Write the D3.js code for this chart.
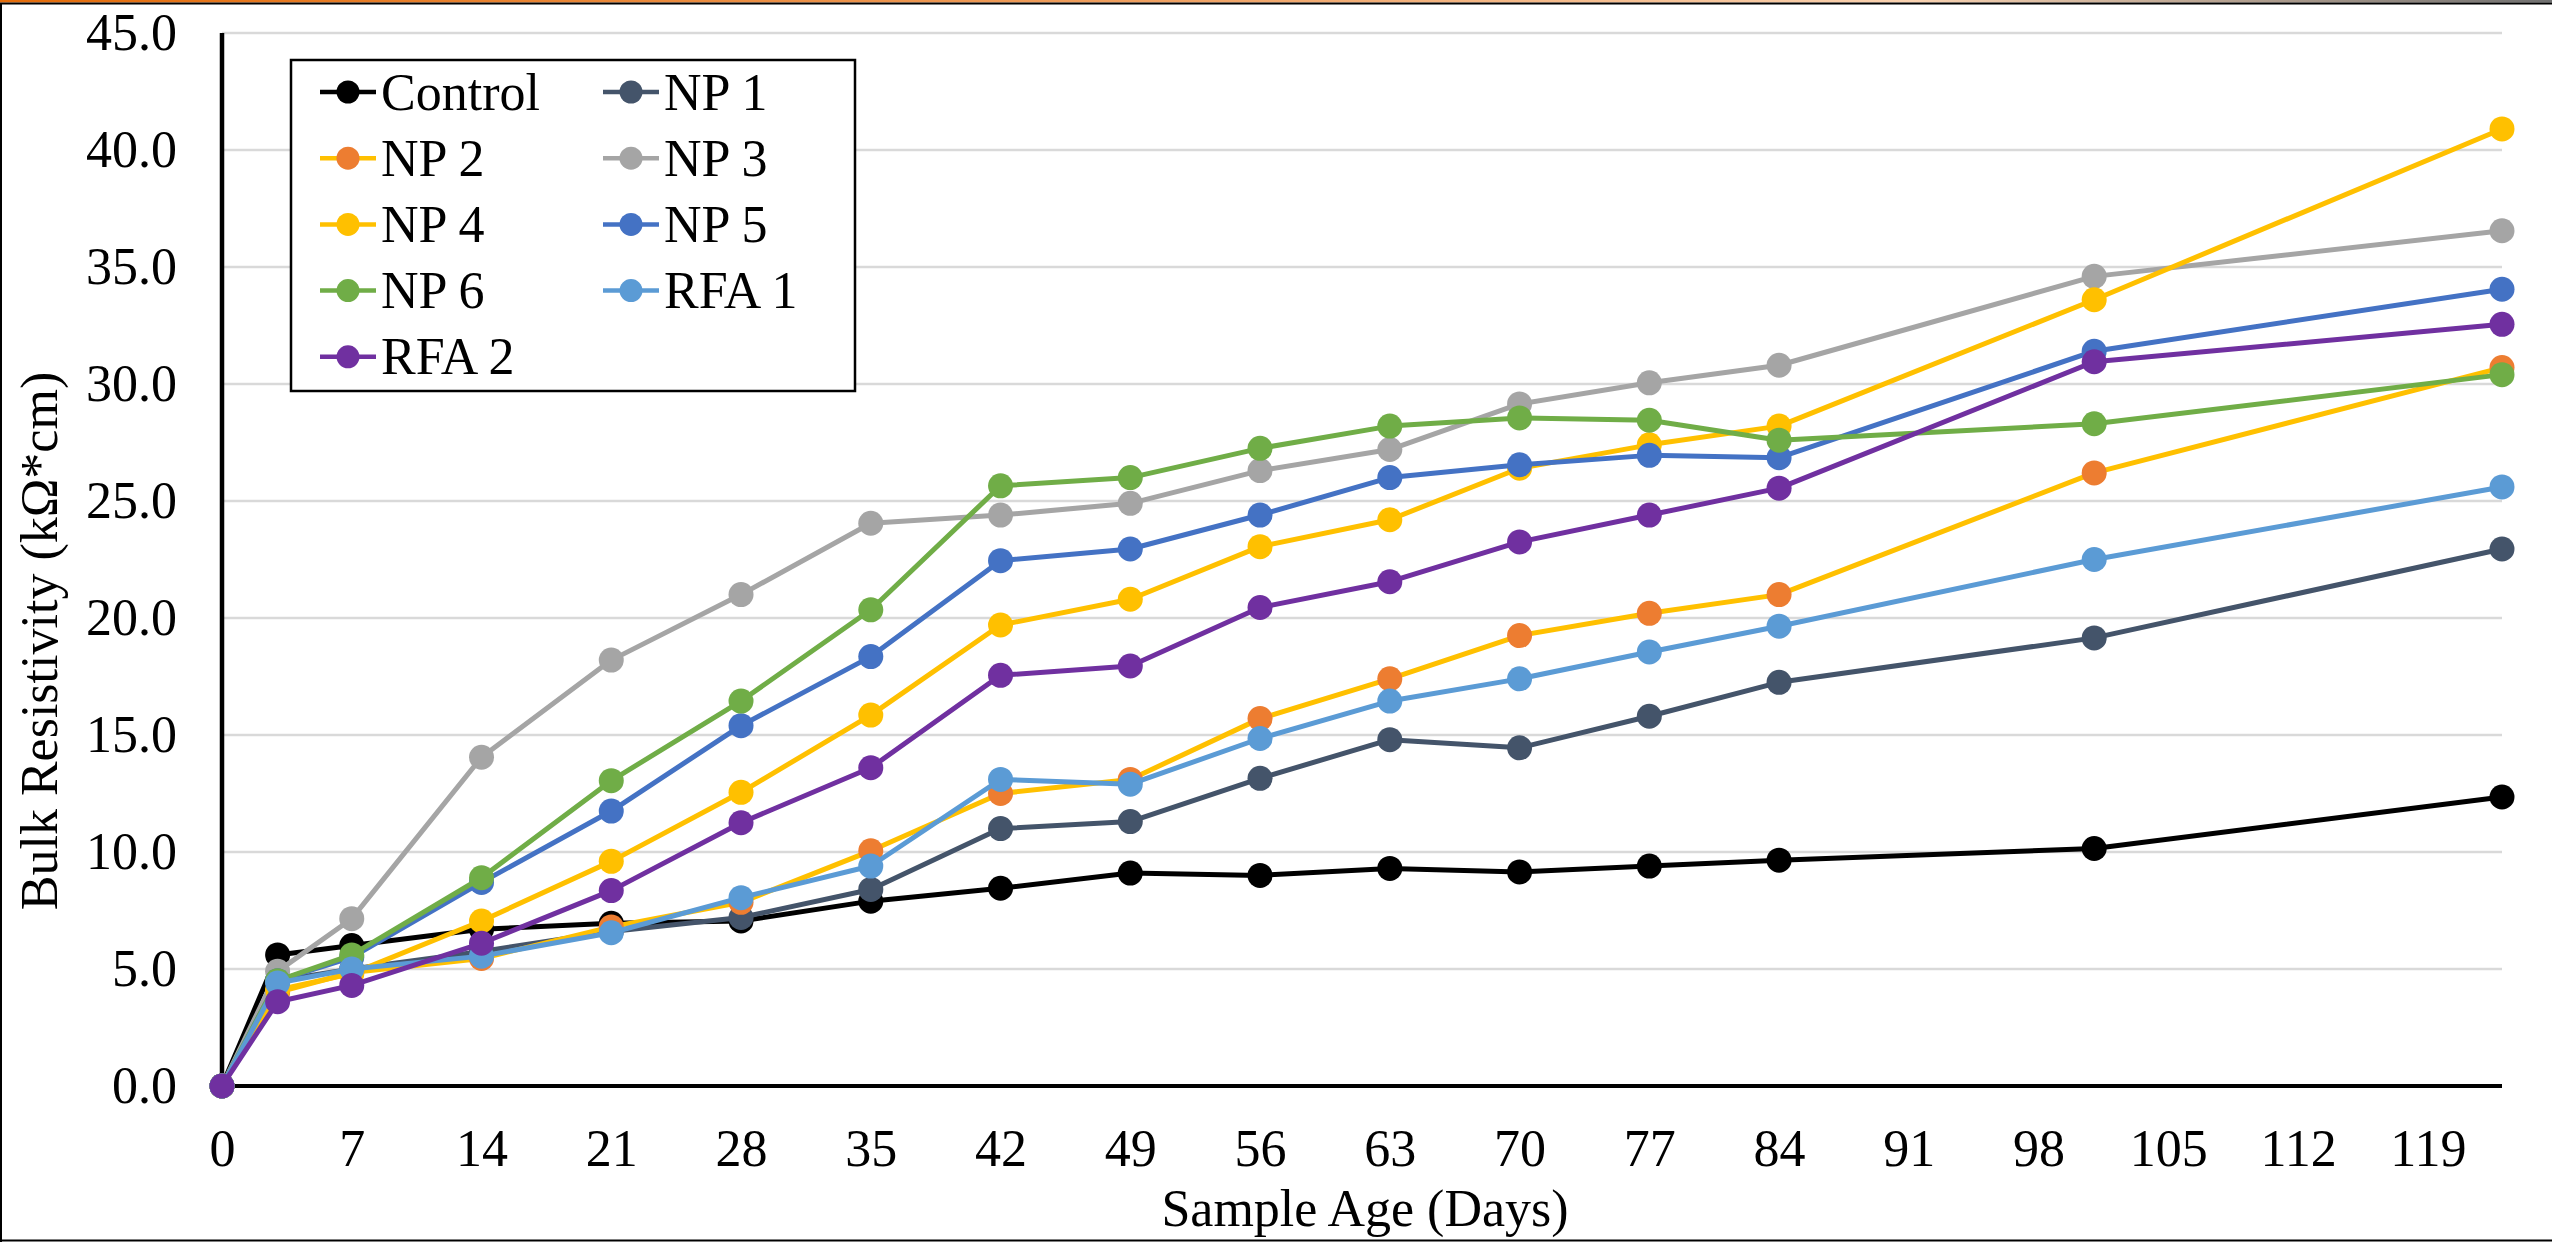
<!DOCTYPE html>
<html>
<head>
<meta charset="utf-8">
<script src="https://cdn.jsdelivr.net/npm/d3@7"></script>
<style>
  html, body { margin: 0; padding: 0; background: #ffffff; }
  svg { display: block; }
  text { font-family: "Liberation Serif", "Times New Roman", serif; fill: #000; }
</style>
</head>
<body>
<svg id="chart" width="2552" height="1242"></svg>
<script>
// ---- data ----
const days = [0, 3, 7, 14, 21, 28, 35, 42, 49, 56, 63, 70, 77, 84, 101, 123];
const seriesNames = ["Control", "NP 1", "NP 2", "NP 3", "NP 4", "NP 5", "NP 6", "RFA 1", "RFA 2"];
const control = [0, 5.6, 6.0, 6.7, 6.95, 7.05, 7.9, 8.45, 9.1, 9.0, 9.3, 9.15, 9.4, 9.65, 10.15, 12.35];
const np1  = [0, 4.5, 5.0, 5.75, 6.6, 7.2, 8.4, 11.0, 11.3, 13.15, 14.8, 14.45, 15.8, 17.25, 19.15, 22.95];
const np2  = [0, 4.0, 4.85, 5.45, 6.8, 7.85, 10.05, 12.5, 13.1, 15.7, 17.4, 19.25, 20.2, 21.0, 26.2, 30.7];
const np3  = [0, 4.9, 7.15, 14.05, 18.2, 21.0, 24.05, 24.4, 24.9, 26.3, 27.2, 29.15, 30.05, 30.8, 34.6, 36.55];
const np4  = [0, 4.1, 4.8, 7.05, 9.6, 12.55, 15.85, 19.7, 20.8, 23.05, 24.2, 26.4, 27.4, 28.2, 33.6, 40.9];
const np5  = [0, 4.5, 5.5, 8.7, 11.75, 15.4, 18.35, 22.45, 22.95, 24.4, 26.0, 26.55, 26.95, 26.85, 31.4, 34.05];
const np6  = [0, 4.5, 5.6, 8.9, 13.05, 16.45, 20.35, 25.65, 26.0, 27.25, 28.2, 28.55, 28.45, 27.6, 28.3, 30.4];
const rfa1 = [0, 4.4, 5.0, 5.55, 6.55, 8.05, 9.4, 13.1, 12.9, 14.85, 16.45, 17.4, 18.55, 19.65, 22.5, 25.6];
const rfa2 = [0, 3.6, 4.3, 6.1, 8.35, 11.25, 13.6, 17.55, 17.95, 20.45, 21.55, 23.25, 24.4, 25.55, 30.95, 32.55];
const seriesValues = [control, np1, np2, np3, np4, np5, np6, rfa1, rfa2];
const lineColors   = ["#000000", "#44546A", "#FFC000", "#A5A5A5", "#FFC000", "#4472C4", "#70AD47", "#5B9BD5", "#7030A0"];
const markerColors = ["#000000", "#44546A", "#ED7D31", "#A5A5A5", "#FFC000", "#4472C4", "#70AD47", "#5B9BD5", "#7030A0"];
const xTicks = d3.range(0, 120, 7);
const yTicks = d3.range(0, 46, 5);
const xTitle = "Sample Age (Days)";
const yTitle = "Bulk Resistivity (kΩ*cm)";

// ---- layout ----
const W = 2552, H = 1242;
const plotL = 222, plotR = 2502, plotT = 33, plotB = 1086;
const FS = 52;

const svg = d3.select("#chart");
svg.append("rect").attr("x", 0).attr("y", 0).attr("width", W).attr("height", H).attr("fill", "#fff");

const x = d3.scaleLinear().domain([0, 123]).range([plotL, plotR]);
const y = d3.scaleLinear().domain([0, 45]).range([plotB, plotT]);

// gridlines
svg.append("g").selectAll("line").data(yTicks.filter(t => t > 0)).join("line")
  .attr("x1", plotL).attr("x2", plotR)
  .attr("y1", d => y(d)).attr("y2", d => y(d))
  .attr("stroke", "#D9D9D9").attr("stroke-width", 2.5);

// axes labels
const yAxis = svg.append("g").attr("transform", `translate(${plotL},0)`)
  .call(d3.axisLeft(y).tickValues(yTicks).tickSize(0).tickPadding(45).tickFormat(d3.format(".1f")));
yAxis.select(".domain").remove();
yAxis.selectAll("text").attr("font-size", FS).style("font-family", '"Liberation Serif", "Times New Roman", serif');

const xAxis = svg.append("g").attr("transform", `translate(0,${plotB})`)
  .call(d3.axisBottom(x).tickValues(xTicks).tickSize(0).tickPadding(43).tickFormat(d3.format("d")));
xAxis.select(".domain").remove();
xAxis.selectAll("text").attr("font-size", FS).style("font-family", '"Liberation Serif", "Times New Roman", serif');

// axis lines
svg.append("line").attr("x1", plotL).attr("x2", plotL).attr("y1", plotT).attr("y2", plotB + 2)
  .attr("stroke", "#000").attr("stroke-width", 4.5);
svg.append("line").attr("x1", plotL).attr("x2", plotR).attr("y1", plotB).attr("y2", plotB)
  .attr("stroke", "#000").attr("stroke-width", 4);

// axis titles
svg.append("text").attr("x", (plotL + plotR) / 2 + 3).attr("y", 1226)
  .attr("text-anchor", "middle").attr("font-size", FS).text(xTitle);
svg.append("text").attr("transform", "translate(57,641) rotate(-90)")
  .attr("text-anchor", "middle").attr("font-size", FS).text(yTitle);

// series
const line = d3.line().x((d, i) => x(days[i])).y(d => y(d));
const gSeries = svg.append("g");
seriesValues.forEach((vals, si) => {
  const g = gSeries.append("g");
  g.append("path").attr("d", line(vals)).attr("fill", "none")
    .attr("stroke", lineColors[si]).attr("stroke-width", 5).attr("stroke-linejoin", "round");
  g.selectAll("circle").data(vals).join("circle")
    .attr("cx", (d, i) => x(days[i])).attr("cy", d => y(d)).attr("r", 12.5)
    .attr("fill", markerColors[si]);
});

// legend
const lg = svg.append("g");
lg.append("rect").attr("x", 291).attr("y", 60).attr("width", 564).attr("height", 331)
  .attr("fill", "#fff").attr("stroke", "#000").attr("stroke-width", 2.5);
const colX = [320, 603];
seriesNames.forEach((name, i) => {
  const cx = colX[i % 2];
  const cy = 92 + Math.floor(i / 2) * 66.2;
  lg.append("line").attr("x1", cx).attr("x2", cx + 56).attr("y1", cy).attr("y2", cy)
    .attr("stroke", lineColors[i]).attr("stroke-width", 4.5);
  lg.append("circle").attr("cx", cx + 28).attr("cy", cy).attr("r", 11.5).attr("fill", markerColors[i]);
  lg.append("text").attr("x", cx + 61).attr("y", cy + 17.5).attr("font-size", FS).text(name);
});

// chart border
const defs = svg.append("defs");
const grad = defs.append("linearGradient").attr("id", "topgrad").attr("x1", "0%").attr("x2", "100%");
grad.append("stop").attr("offset", "0%").attr("stop-color", "#E46C0A");
grad.append("stop").attr("offset", "45%").attr("stop-color", "#F0A060");
grad.append("stop").attr("offset", "75%").attr("stop-color", "#FAD2B0");
grad.append("stop").attr("offset", "100%").attr("stop-color", "#707070");
svg.append("rect").attr("x", 0).attr("y", 0).attr("width", W).attr("height", 2.5).attr("fill", "url(#topgrad)");
svg.append("line").attr("x1", 0).attr("x2", W).attr("y1", 3.5).attr("y2", 3.5).attr("stroke", "#000").attr("stroke-width", 2);
svg.append("line").attr("x1", 1).attr("x2", 1).attr("y1", 3).attr("y2", H).attr("stroke", "#000").attr("stroke-width", 2);
svg.append("line").attr("x1", 0).attr("x2", W).attr("y1", H - 1.5).attr("y2", H - 1.5).attr("stroke", "#000").attr("stroke-width", 2);
</script>
</body>
</html>
